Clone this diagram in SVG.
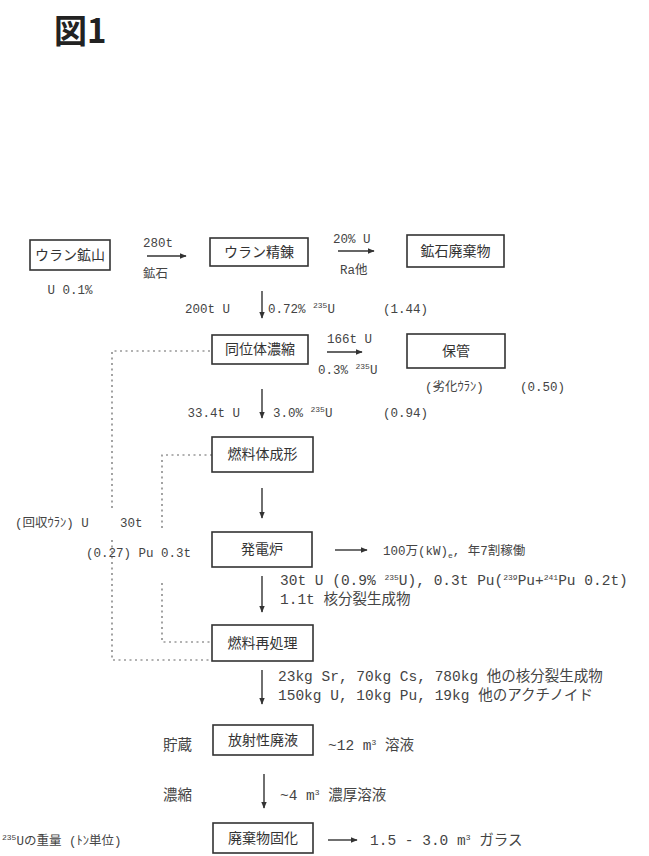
<svg xmlns="http://www.w3.org/2000/svg" width="649" height="856" viewBox="0 0 649 856">
<defs>
<marker id="ah" viewBox="0 0 10 10" refX="9" refY="5" markerWidth="7" markerHeight="7" orient="auto" markerUnits="userSpaceOnUse">
<path d="M0,1 L10,5 L0,9 z" fill="#333"/>
</marker>
<style>
.box{fill:none;stroke:#333;stroke-width:1.6}
.bt{font-family:"Noto Sans CJK JP","Noto Sans CJK SC",sans-serif;font-size:14px;fill:#333;text-anchor:middle}
.lb{font-family:"Liberation Mono","Noto Sans CJK JP",monospace;font-size:12.5px;fill:#444}
.lg{font-size:14.5px}
.sup{font-size:8px}
.arr{stroke:#333;stroke-width:1.4;fill:none;marker-end:url(#ah)}
.dot{stroke:#666;stroke-width:1.2;fill:none;stroke-dasharray:2 3.5}
.title{font-family:"Noto Sans CJK JP",sans-serif;font-size:33px;font-weight:bold;fill:#222}
</style>
</defs>
<rect width="649" height="856" fill="#fff"/>
<text class="title" x="54" y="43">図1</text>

<g id="connectors">
<line class="arr" x1="147" y1="256" x2="186" y2="256"/>
<line class="arr" x1="338" y1="251" x2="374" y2="251"/>
<line class="arr" x1="262" y1="291" x2="262" y2="318"/>
<line class="arr" x1="327" y1="352" x2="362" y2="352"/>
<line class="arr" x1="262" y1="389" x2="262" y2="418"/>
<line class="arr" x1="262" y1="488" x2="262" y2="518"/>
<line class="arr" x1="335" y1="550" x2="367" y2="550"/>
<line class="arr" x1="262" y1="576" x2="262" y2="612"/>
<line class="arr" x1="262" y1="670" x2="262" y2="704"/>
<line class="arr" x1="264" y1="774" x2="264" y2="808"/>
<line class="arr" x1="328" y1="840" x2="357" y2="840"/>
<polyline class="dot" points="210,351 112,351 112,508"/>
<polyline class="dot" points="112,540 112,660 212,660"/>
<polyline class="dot" points="212,455 162,455 162,530"/>
<polyline class="dot" points="162,583 162,642 212,642"/>
</g>

<g id="mine"><rect class="box" x="30" y="240" width="80" height="30"/><text class="bt" x="70" y="260">ウラン鉱山</text></g>
<g id="refine"><rect class="box" x="210" y="238" width="98" height="28"/><text class="bt" x="259" y="257">ウラン精錬</text></g>
<g id="tailings"><rect class="box" x="407" y="235" width="97" height="32"/><text class="bt" x="455.5" y="256">鉱石廃棄物</text></g>
<g id="enrich"><rect class="box" x="212" y="335" width="96" height="29"/><text class="bt" x="260" y="354">同位体濃縮</text></g>
<g id="storage"><rect class="box" x="407" y="334" width="98" height="34"/><text class="bt" x="456" y="356">保管</text></g>
<g id="fab"><rect class="box" x="212" y="437" width="101" height="35"/><text class="bt" x="262.5" y="459">燃料体成形</text></g>
<g id="reactor"><rect class="box" x="212" y="532" width="100" height="35"/><text class="bt" x="262" y="554">発電炉</text></g>
<g id="reprocess"><rect class="box" x="212" y="625" width="101" height="36"/><text class="bt" x="262.5" y="648">燃料再処理</text></g>
<g id="hlw"><rect class="box" x="213" y="725" width="100" height="30"/><text class="bt" x="263" y="745">放射性廃液</text></g>
<g id="vitrify"><rect class="box" x="213" y="823" width="100" height="30"/><text class="bt" x="263" y="843">廃棄物固化</text></g>

<g id="labels">
<text class="lb" x="70" y="294" text-anchor="middle">U 0.1%</text>
<text class="lb" x="143" y="247">280t</text>
<text class="lb" x="143" y="278">鉱石</text>
<text class="lb" x="333" y="243">20% U</text>
<text class="lb" x="340" y="274">Ra他</text>
<text class="lb" x="230" y="313" text-anchor="end">200t U</text>
<text class="lb" x="268" y="313">0.72% <tspan class="sup" dy="-5">235</tspan><tspan dy="5">U</tspan></text>
<text class="lb" x="383" y="313">(1.44)</text>
<text class="lb" x="327" y="343">166t U</text>
<text class="lb" x="318" y="374">0.3% <tspan class="sup" dy="-5">235</tspan><tspan dy="5">U</tspan></text>
<text class="lb" x="425" y="391">(劣化ｳﾗﾝ)</text>
<text class="lb" x="520" y="391">(0.50)</text>
<text class="lb" x="240" y="417" text-anchor="end">33.4t U</text>
<text class="lb" x="273" y="417">3.0% <tspan class="sup" dy="-5">235</tspan><tspan dy="5">U</tspan></text>
<text class="lb" x="383" y="417">(0.94)</text>
<text class="lb" x="15" y="527">(回収ｳﾗﾝ) U<tspan x="120">30t</tspan></text>
<text class="lb" x="86" y="557">(0.27) Pu 0.3t</text>
<text class="lb" x="383" y="555">100万(kW)<tspan class="sup" dy="3">e</tspan><tspan dy="-3">, 年7割稼働</tspan></text>
<text class="lb lg" x="280" y="585">30t U (0.9% <tspan class="sup" dy="-5">235</tspan><tspan dy="5">U), 0.3t Pu(</tspan><tspan class="sup" dy="-5">239</tspan><tspan dy="5">Pu+</tspan><tspan class="sup" dy="-5">241</tspan><tspan dy="5">Pu 0.2t)</tspan></text>
<text class="lb lg" x="280" y="604">1.1t 核分裂生成物</text>
<text class="lb lg" x="278" y="681">23kg Sr, 70kg Cs, 780kg 他の核分裂生成物</text>
<text class="lb lg" x="278" y="700">150kg U, 10kg Pu, 19kg 他のアクチノイド</text>
<text class="lb lg" x="163" y="750">貯蔵</text>
<text class="lb lg" x="328" y="750">~12 m<tspan class="sup" dy="-5">3</tspan><tspan dy="5"> 溶液</tspan></text>
<text class="lb lg" x="163" y="800">濃縮</text>
<text class="lb lg" x="280" y="800">~4 m<tspan class="sup" dy="-5">3</tspan><tspan dy="5"> 濃厚溶液</tspan></text>
<text class="lb lg" x="370" y="845">1.5 - 3.0 m<tspan class="sup" dy="-5">3</tspan><tspan dy="5"> ガラス</tspan></text>
<text class="lb" x="2" y="845"><tspan class="sup" dy="-5">235</tspan><tspan dy="5">Uの重量 (ﾄﾝ単位)</tspan></text>
</g>
</svg>
